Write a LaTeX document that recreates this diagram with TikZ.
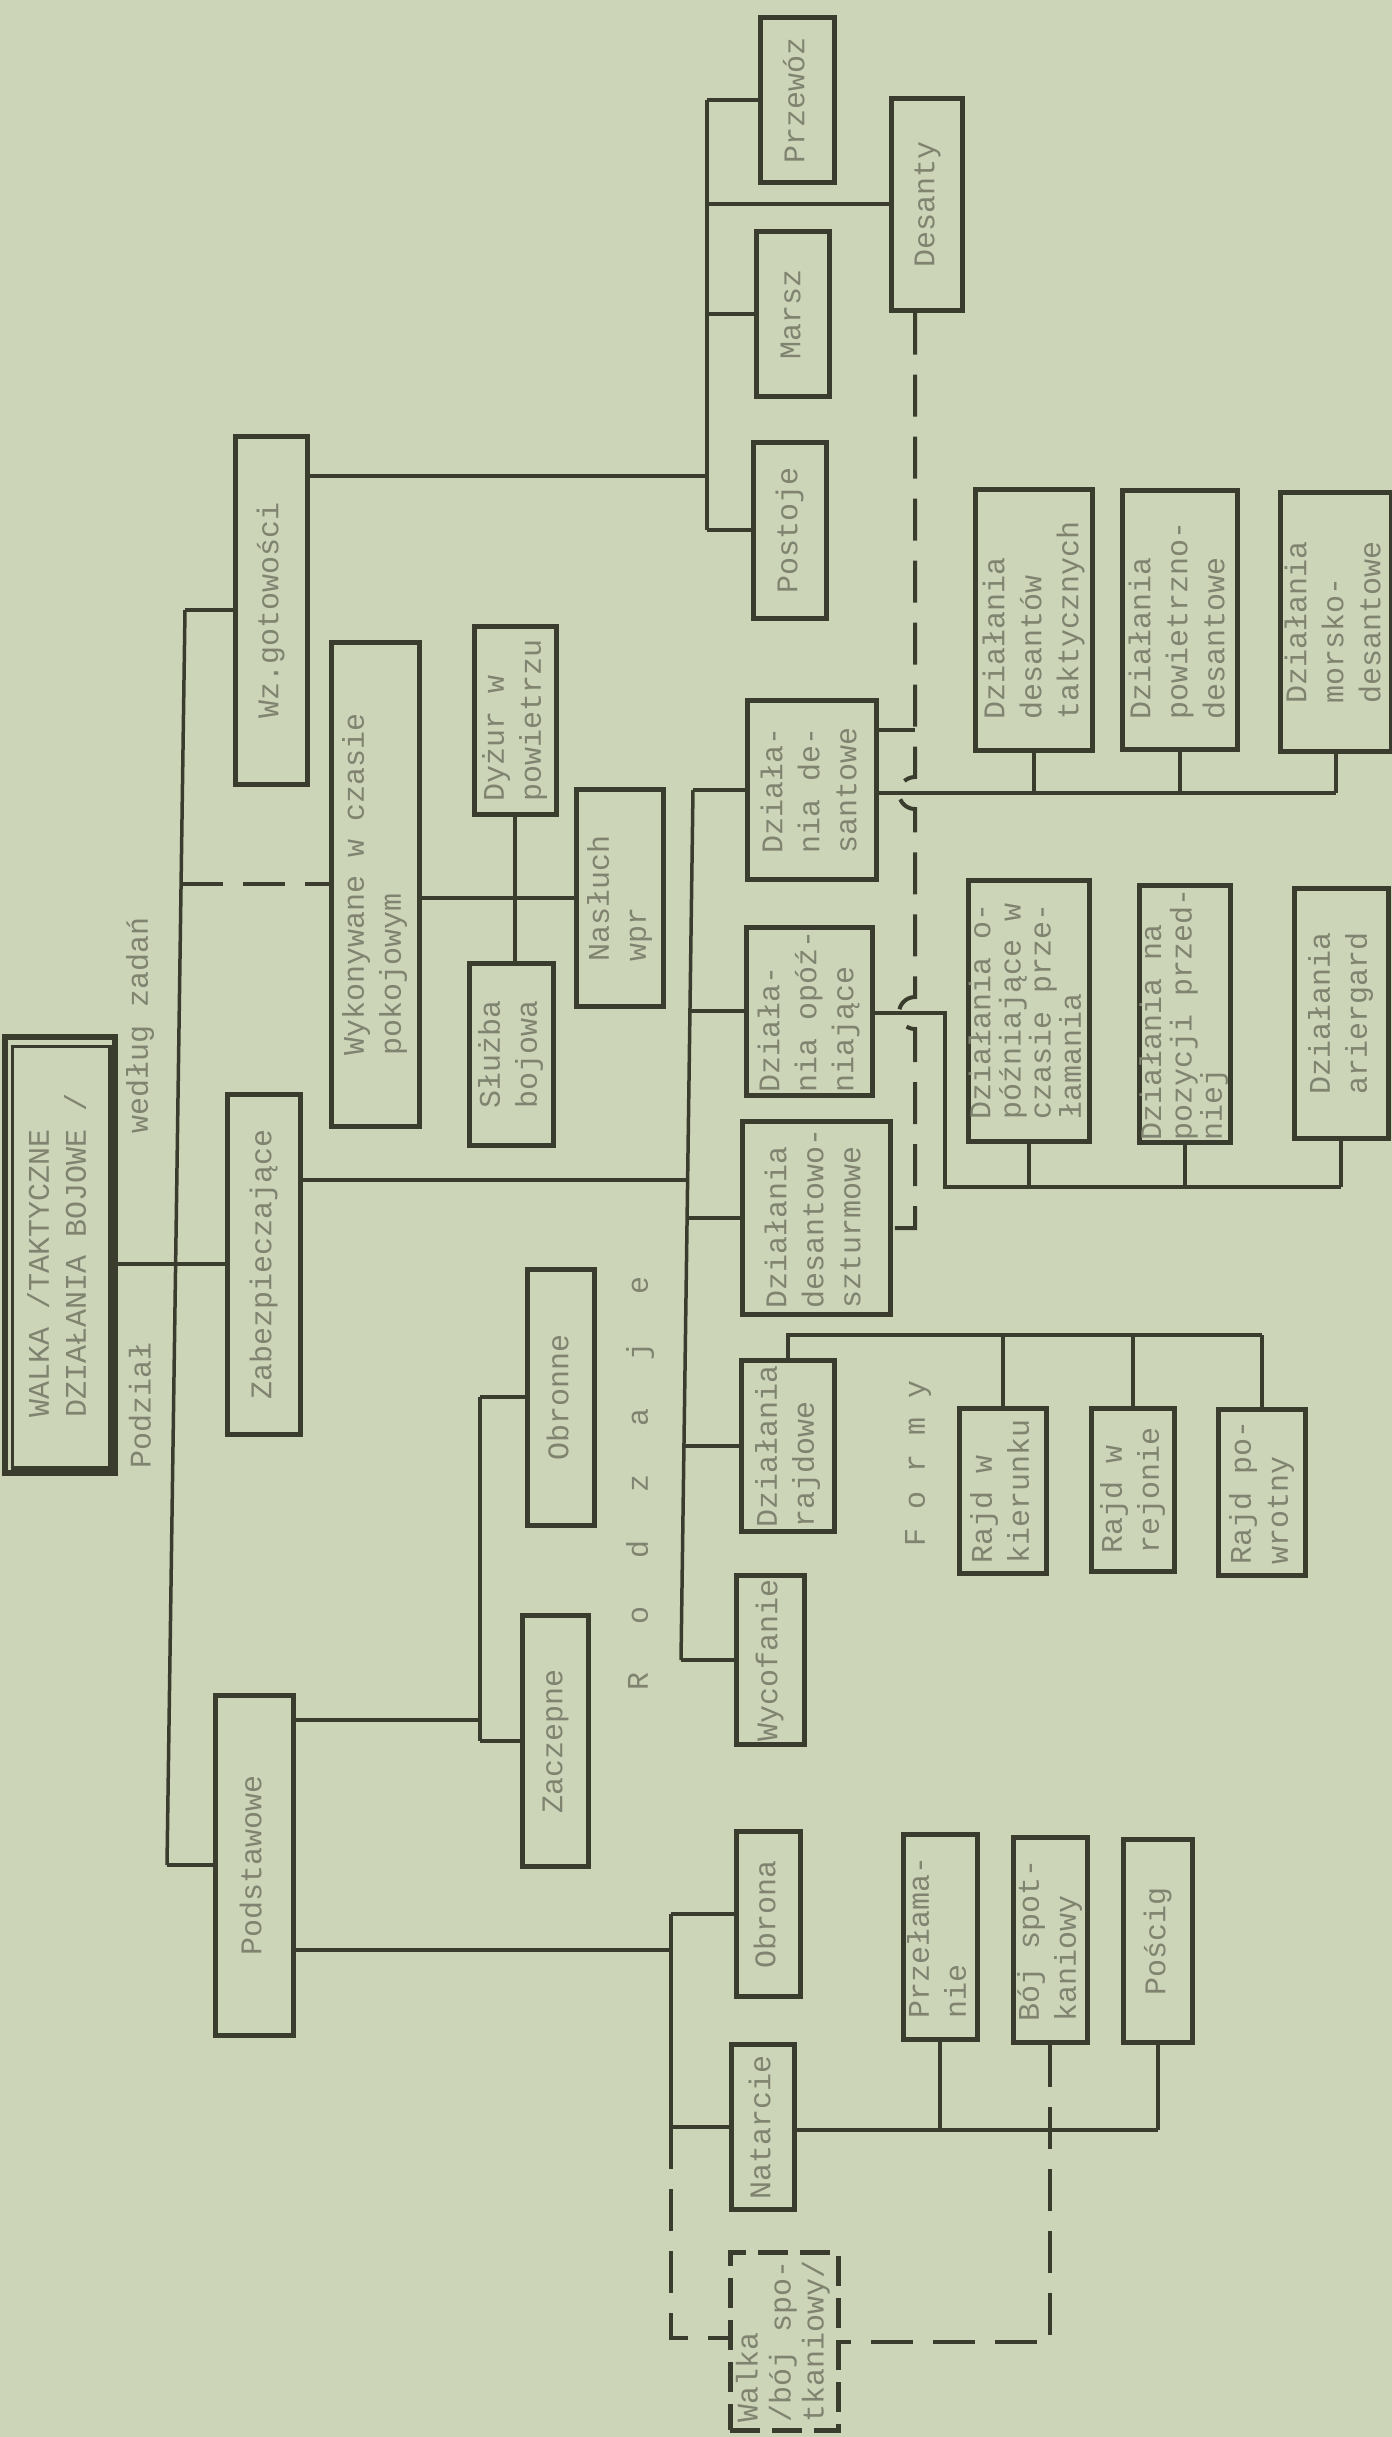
\documentclass[tikz,border=0pt]{standalone}
\usepackage{fontspec}
\setmainfont{Liberation Mono}
\usepackage{graphicx}
\usetikzlibrary{calc}
\definecolor{paper}{HTML}{CDD5B8}
\definecolor{ink}{HTML}{3A3D2E}
\definecolor{txt}{HTML}{7F836F}
\newcommand\rt[2][37]{\rotatebox{90}{\fontsize{30}{#1}\selectfont\begin{tabular}{@{}l@{}}#2\end{tabular}}}
\tikzset{
  bx/.style={draw=ink, line width=5pt, inner sep=0pt, text=txt, rectangle},
  ln/.style={draw=ink, line width=3.5pt},
  dl/.style={draw=ink, line width=4pt, dash pattern=on 42pt off 20pt},
  lbl/.style={text=txt, inner sep=0pt, font=\fontsize{30}{37}\selectfont}
}
\begin{document}
\begin{tikzpicture}[x=1pt,y=-1pt]
\fill[paper] (0,0) rectangle (1392,2437);
\useasboundingbox (0,0) rectangle (1392,2437);

% ---- boxes
\node[bx, line width=5.5pt, minimum width=110pt, minimum height=436pt] (title) at (60,1255) {\rt{WALKA /TAKTYCZNE\\DZIAŁANIA BOJOWE /}};
\draw[ink, line width=3.5pt] ([xshift=10pt,yshift=-12pt]title.north west) rectangle ([xshift=-8pt,yshift=8pt]title.south east);

\node[bx, minimum width=72pt, minimum height=348pt] (wz) at (271,610) {\rt{Wz.gotowości}};
\node[bx, minimum width=88pt, minimum height=484pt] (long) at (375,884) {\rt{Wykonywane w czasie\\pokojowym}};
\node[bx, minimum width=82pt, minimum height=188pt] (pow) at (515,720) {\rt{Dyżur w\\powietrzu}};
\node[bx, minimum width=84pt, minimum height=182pt] (sluzba) at (511,1054) {\rt{Służba\\bojowa}};
\node[bx, minimum width=87pt, minimum height=217pt] (nasluch) at (620,898) {\rt{Nasłuch\\wpr}};
\node[bx, minimum width=73pt, minimum height=340pt] (zab) at (264,1264) {\rt{Zabezpieczające}};
\node[bx, minimum width=78pt, minimum height=340pt] (podst) at (254,1865) {\rt{Podstawowe}};
\node[bx, minimum width=67pt, minimum height=256pt] (obr) at (561,1397) {\rt{Obronne}};
\node[bx, minimum width=66pt, minimum height=251pt] (zacz) at (555,1741) {\rt{Zaczepne}};

\node[bx, minimum width=74pt, minimum height=165pt] (przewoz) at (797,100) {\rt{Przewóz}};
\node[bx, minimum width=73pt, minimum height=165pt] (marsz) at (793,314) {\rt{Marsz}};
\node[bx, minimum width=73pt, minimum height=176pt] (postoje) at (790,530) {\rt{Postoje}};
\node[bx, minimum width=71pt, minimum height=212pt] (desanty) at (927,204) {\rt{Desanty}};

\node[bx, minimum width=129pt, minimum height=179pt] (dzd) at (812,790) {\rt{Działa-\\nia de-\\santowe}};
\node[bx, minimum width=126pt, minimum height=168pt] (opoz) at (809,1011) {\rt{Działa-\\nia opóź-\\niające}};
\node[bx, minimum width=148pt, minimum height=193pt] (dsz) at (816,1218) {\rt{Działania\\desantowo-\\szturmowe}};
\node[bx, minimum width=93pt, minimum height=171pt] (rajd) at (788,1446) {\rt{Działania\\rajdowe}};
\node[bx, minimum width=68pt, minimum height=169pt] (wyc) at (770,1660) {\rt{Wycofanie}};

\node[bx, minimum width=117pt, minimum height=261pt] (dt) at (1034,620) {\rt{Działania\\desantów\\taktycznych}};
\node[bx, minimum width=115pt, minimum height=259pt] (dp) at (1180,620) {\rt{Działania\\powietrzno-\\desantowe}};
\node[bx, minimum width=109pt, minimum height=259pt] (dm) at (1336,622) {\rt{Działania\\morsko-\\desantowe}};

\node[bx, minimum width=118pt, minimum height=261pt] (oc) at (1029,1011) {\rt[28]{Działania o-\\późniające w\\czasie prze-\\łamania}};
\node[bx, minimum width=87pt, minimum height=257pt] (onp) at (1185,1014) {\rt[29]{Działania na\\pozycji przed-\\niej}};
\node[bx, minimum width=94pt, minimum height=250pt] (oa) at (1341,1013) {\rt{Działania\\ariergard}};

\node[bx, minimum width=87pt, minimum height=165pt] (rk) at (1003,1491) {\rt{Rajd w\\kierunku}};
\node[bx, minimum width=83pt, minimum height=163pt] (rr) at (1133,1490) {\rt{Rajd w\\rejonie}};
\node[bx, minimum width=87pt, minimum height=166pt] (rp) at (1262,1492) {\rt{Rajd po-\\wrotny}};

\node[bx, minimum width=64pt, minimum height=165pt] (obrona) at (768,1914) {\rt{Obrona}};
\node[bx, minimum width=63pt, minimum height=165pt] (natarcie) at (763,2127) {\rt{Natarcie}};
\node[bx, minimum width=69pt, minimum height=205pt] (przel) at (940,1937) {\rt{Przełama-\\nie}};
\node[bx, minimum width=73pt, minimum height=205pt] (boj) at (1050,1940) {\rt{Bój spot-\\kaniowy}};
\node[bx, minimum width=69pt, minimum height=203pt] (poscig) at (1158,1941) {\rt{Pościg}};
\node[bx, line width=5pt, dash pattern=on 30pt off 12pt, minimum width=108pt, minimum height=178pt] (walka) at (784,2341) {\rt[33]{Walka\\/bój spo-\\tkaniowy/}};

% ---- free labels
\node[lbl, rotate=90] (lpod) at (140,1405) {Podział};
\node[lbl, rotate=90] (lwed) at (140,1025) {według zadań};
\node[lbl, rotate=90] (lrodz) at (640,1483) {R\hspace{48pt}o\hspace{48pt}d\hspace{48pt}z\hspace{48pt}a\hspace{48pt}j\hspace{48pt}e};
\node[lbl, rotate=90] (lformy) at (918,1463) {F\hspace{19pt}o\hspace{19pt}r\hspace{19pt}m\hspace{19pt}y};

% ---- spine 1 (left, slightly tilted like the scan)
\coordinate (s1a) at (185,610);
\coordinate (s1b) at (181,884);
\coordinate (s1d) at (167,1865);
\draw[ln] (s1a) -- (s1d);
\draw[ln] (s1a) -- (wz.west);
\draw[ln] (s1d) -- (podst.west);
\draw[dl] (s1b) -- (long.west);
\draw[ln] (title.east |- zab.west) -- (zab.west);

% ---- readiness group
\coordinate (wj) at (707,476);
\draw[ln] (wz.east |- wj) -- (wj);
\draw[ln] (wj |- przewoz.west) -- (wj |- postoje.west);
\draw[ln] (wj |- przewoz.west) -- (przewoz.west);
\draw[ln] (wj |- desanty.west) -- (desanty.west);
\draw[ln] (wj |- marsz.west) -- (marsz.west);
\draw[ln] (wj |- postoje.west) -- (postoje.west);

% ---- long box children
\draw[ln] (long.east |- nasluch.west) -- (nasluch.west);
\draw[ln] (pow.south) -- (pow.south |- sluzba.north);

% ---- spine 2 (slightly tilted)
\coordinate (s2a) at (693,790);
\coordinate (s2b) at (690,1011);
\coordinate (zj) at (688,1180);
\coordinate (s2c) at (687,1218);
\coordinate (s2d) at (683,1446);
\coordinate (s2e) at (681,1660);
\draw[ln] (zab.east |- zj) -- (zj);
\draw[ln] (s2a) -- (s2e);
\draw[ln] (s2a) -- (dzd.west);
\draw[ln] (s2b) -- (opoz.west);
\draw[ln] (s2c) -- (dsz.west);
\draw[ln] (s2d) -- (rajd.west);
\draw[ln] (s2e) -- (wyc.west);

% ---- desant children
\coordinate (dh) at (0,793);
\draw[ln] (dzd.east |- dh) -- (dm.south |- dh);
\foreach \n in {dt,dp,dm} \draw[ln] (\n.south) -- (\n.south |- dh);

% ---- delaying children
\coordinate (oj1) at (945,1013);
\coordinate (oj2) at (945,1187);
\draw[ln] (opoz.east |- oj1) -- (oj1) -- (oj2) -- (oa.south |- oj2);
\foreach \n in {oc,onp,oa} \draw[ln] (\n.south) -- (\n.south |- oj2);

% ---- raid children
\coordinate (rh) at (0,1335);
\draw[ln] (rajd.north) -- (rajd.north |- rh) -- (rp.north |- rh);
\foreach \n in {rk,rr,rp} \draw[ln] (\n.north |- rh) -- (\n.north);

% ---- basic: offensive / defensive
\coordinate (pj) at (480,1720);
\draw[ln] (podst.east |- pj) -- (pj);
\draw[ln] (pj |- obr.west) -- (pj |- zacz.west);
\draw[ln] (pj |- obr.west) -- (obr.west);
\draw[ln] (pj |- zacz.west) -- (zacz.west);

% ---- basic: obrona / natarcie
\coordinate (nj) at (671,1950);
\draw[ln] (podst.east |- nj) -- (nj);
\draw[ln] (nj |- obrona.west) -- (nj |- natarcie.west);
\draw[ln] (nj |- obrona.west) -- (obrona.west);
\draw[ln] (nj |- natarcie.west) -- (natarcie.west);
\coordinate (nh) at (0,2130);
\draw[ln] (natarcie.east |- nh) -- (poscig.south |- nh);
\draw[ln] (przel.south) -- (przel.south |- nh);
\draw[ln] (poscig.south) -- (poscig.south |- nh);
\coordinate (wl) at (671,2338);
\coordinate (wr) at (1050,2342);
\draw[dl] (nj |- natarcie.west) -- (wl) -- (wl -| walka.west);
\draw[dl] (boj.south) -- (wr) -- (wr -| walka.east);

% ---- desanty dashed link
\coordinate (dx) at (915,0);
\coordinate (dt1) at (915,730);
\coordinate (dend) at (915,1228);
\draw[ln] (dzd.east |- dt1) -- (dt1);
\draw[dl] (desanty.south -| dx) -- (915,777) arc[start angle=270, end angle=90, radius=16]
  -- (915,997) arc[start angle=270, end angle=90, radius=16] -- (dend) -- (dend -| dsz.east);
\end{tikzpicture}
\end{document}
